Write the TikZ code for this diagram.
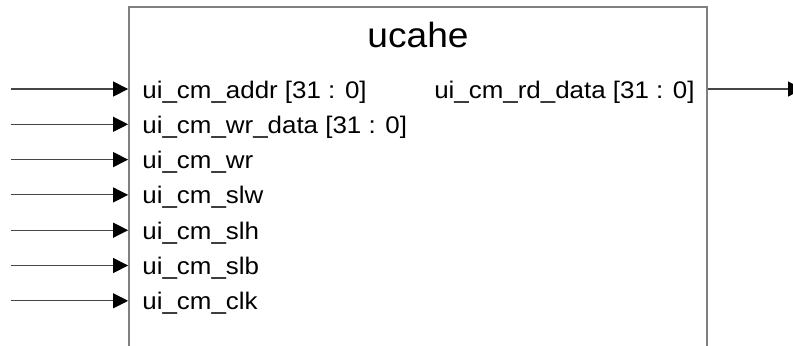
\documentclass[tikz,border=0pt]{standalone}
\usepackage{fontspec}
\setmainfont{Liberation Sans}
\usetikzlibrary{arrows.meta}
\usetikzlibrary{positioning}
\definecolor{boxgray}{RGB}{128, 128, 128}
\definecolor{wiregray}{RGB}{70, 70, 70}

% labels are set a bit wider than the font itself
\newcommand{\wide}[2]{\scalebox{#1}[1]{#2}}

\begin{document}
\begin{tikzpicture}[x=0.5pt, y=-0.5pt,
        portlabel/.style={font=\fontsize{12}{14.4}\selectfont, inner sep=0pt},
        wire/.style={wiregray, line width=0.55pt, -{Triangle[length=7.5pt, width=7.5pt, color=black]}}]
    \useasboundingbox (0,0) rectangle (793,345);
    % the block, its lower edge lies below the page
    \node[draw=boxgray, line width=0.9pt, minimum width=289pt, minimum height=196.5pt, inner sep=0pt] (ucahe) at (418,203.5) {};
    \node[font=\fontsize{17.5}{21}\selectfont, anchor=base, inner sep=0pt] (title) at (418,47) {\wide{1.06}{ucahe}};
    % inputs
    \foreach \pin/\txt [count=\i from 0] in {addr/{ui\_cm\_addr [31 : 0]}, wrdata/{ui\_cm\_wr\_data [31 : 0]},
            wr/{ui\_cm\_wr}, slw/{ui\_cm\_slw}, slh/{ui\_cm\_slh}, slb/{ui\_cm\_slb}, clk/{ui\_cm\_clk}} {
        \coordinate (\pin in) at (11, 89+35.3*\i);
        \node[portlabel, anchor=base west] (\pin) at (142, 98+35.3*\i) {\wide{1.08}{\txt}};
        \draw[wire] (\pin in) -- (\pin in -| ucahe.west);
    }
    % output
    \node[portlabel, anchor=base east] (rddata) at (695,98) {\wide{1.08}{ui\_cm\_rd\_data [31 : 0]}};
    \coordinate (rddata out) at (803,89);
    \draw[wire] (rddata out -| ucahe.east) -- (rddata out);
\end{tikzpicture}
\end{document}
